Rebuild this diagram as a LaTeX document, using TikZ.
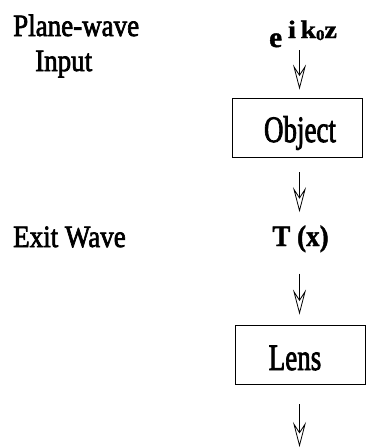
\documentclass[tikz,border=0pt]{standalone}
\usepackage{fontspec}
\setmainfont{Liberation Serif}
\newfontfamily\hv{Liberation Serif}[FakeBold=2.4]
\newfontfamily\hvb{Liberation Serif Bold}[FakeBold=1.5]
\usetikzlibrary{arrows.meta}
\newcommand\stretchy[2]{\scalebox{1}[#1]{#2}}
\begin{document}
\begin{tikzpicture}[x=1pt,y=-1pt,
  lbl/.style={inner sep=0pt, font=\hv\fontsize{27}{30}\selectfont},
  box/.style={draw, line width=0.9pt, inner sep=0pt, minimum width=130pt, minimum height=59pt,
              font=\hv\fontsize{27}{30}\selectfont, text depth=0pt},
  arr/.style={line width=0.8pt, -{Stealth[open, length=25pt, width=13pt, inset=10pt, line width=0.8pt]}}]
\useasboundingbox (0,0) rectangle (366,448);
% left labels
\node[lbl, anchor=base west] (pw) at (13,36) {\stretchy{1.15}{Plane-wave}};
\node[lbl, anchor=base west] (inp) at (35,71) {\stretchy{1.15}{Input}};
\node[lbl, anchor=base west] (exit) at (13,247) {\stretchy{1.15}{Exit Wave}};
% right column
\node[inner sep=0pt, anchor=base west, font=\hvb\fontsize{29}{32}\selectfont] (in) at (269,47)
  {e\hspace{6pt}\raisebox{9pt}{\scalebox{1.12}[1]{\fontsize{25}{27}\selectfont i\,k\raisebox{-2pt}{\fontsize{15}{16}\selectfont 0}z}}};
\node[box, text height=29pt] (obj) at (297,127.5) {\hspace*{6pt}\stretchy{1.38}{Object}};
\node[inner sep=0pt, anchor=base, font=\hvb\fontsize{27}{30}\selectfont] (tx) at (300.5,246) {\stretchy{1.1}{T (x)}};
\node[box, text height=31pt] (lens) at (300.5,354.5) {\hspace*{-11pt}\stretchy{1.38}{Lens}};
\coordinate (ax) at (299.5,0);
\coordinate (out) at (299.5,447);
\draw[arr, shorten <=3pt, shorten >=8pt] (in.south -| ax) -- (obj.north -| ax);
\draw[arr, shorten <=15pt, shorten >=13pt] (obj.south -| ax) -- (tx.north -| ax);
\draw[arr, shorten <=21pt, shorten >=10pt] (tx.south -| ax) -- (lens.north -| ax);
\draw[arr, shorten <=20pt] (lens.south -| ax) -- (out);
\end{tikzpicture}
\end{document}
